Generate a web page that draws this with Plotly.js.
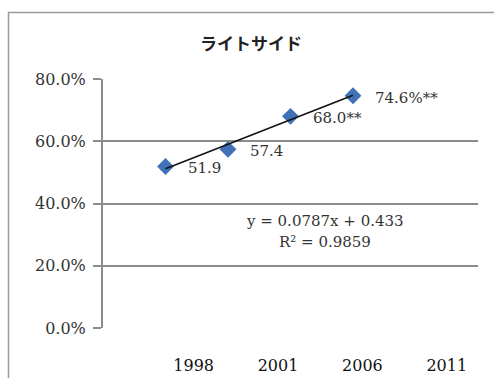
<!DOCTYPE html>
<html>
<head>
<meta charset="utf-8">
<script src="https://cdn.plot.ly/plotly-3.0.1.min.js"></script>
<style>html,body{margin:0;padding:0;background:#fff;}#chart{width:494px;height:378px;}</style>
</head>
<body>
<div id="chart"></div>
<script>
// Data
const chartTitle = 'ライトサイド';
const xPos = [1, 2, 3, 4];
const values = [0.519, 0.574, 0.680, 0.746];
const pointLabels = ['51.9', '57.4', '68.0**', '74.6%**'];
const tickPositions = [1.45, 2.8, 4.15, 5.5];
const tickLabels = ['1998', '2001', '2006', '2011'];
const eqText = 'y = 0.0787x + 0.433';
const r2Text = 'R² = 0.9859';

// linear regression
const n = xPos.length;
const mx = xPos.reduce((a, b) => a + b, 0) / n;
const my = values.reduce((a, b) => a + b, 0) / n;
let sxy = 0, sxx = 0;
for (let i = 0; i < n; i++) { sxy += (xPos[i] - mx) * (values[i] - my); sxx += (xPos[i] - mx) ** 2; }
const slope = sxy / sxx, intercept = my - slope * mx;
const trendX = [xPos[0], xPos[n - 1]];
const trendY = trendX.map(x => slope * x + intercept);

const serif = 'DejaVu Serif, Liberation Serif, serif';
const gridCol = '#8c8c8c';

const traces = [
  {x: xPos, y: values, mode: 'markers', type: 'scatter',
   marker: {symbol: 'diamond', size: 13, color: '#3f72b6', line: {width: 0}}, hoverinfo: 'skip'},
  {x: trendX, y: trendY, mode: 'lines', type: 'scatter',
   line: {color: '#111', width: 1.5}, hoverinfo: 'skip'}
];

const annotations = pointLabels.map((t, i) => ({
  x: xPos[i], y: values[i], xref: 'x', yref: 'y', text: t, showarrow: false,
  xanchor: 'left', yanchor: 'middle', xshift: 20, yshift: -2,
  font: {family: serif, size: 15, color: '#333'}
}));
annotations.push({x: 3.55, y: 0.40, xref: 'x', yref: 'y', text: eqText, showarrow: false,
  xanchor: 'center', yanchor: 'middle', yshift: -17, font: {family: serif, size: 15, color: '#333'}});
annotations.push({x: 3.55, y: 0.40, xref: 'x', yref: 'y', text: r2Text, showarrow: false,
  xanchor: 'center', yanchor: 'middle', yshift: -38, font: {family: serif, size: 15, color: '#333'}});

const layout = {
  width: 494, height: 378,
  margin: {l: 103, r: 16, t: 79, b: 50},
  paper_bgcolor: '#fff', plot_bgcolor: '#fff',
  showlegend: false,
  title: {text: '<b>' + chartTitle + '</b>', x: 251 / 494, xref: 'container', xanchor: 'center',
          y: 1 - 44 / 378, yref: 'container', yanchor: 'middle',
          font: {family: 'Noto Sans CJK JP, sans-serif', size: 17, color: '#222'}},
  xaxis: {range: [0, 6], showgrid: false, zeroline: false, showline: false, ticks: '',
          tickvals: tickPositions, ticktext: tickLabels, ticklabelstandoff: 26,
          tickfont: {family: serif, size: 16, color: '#111'}},
  yaxis: {range: [0, 0.8], dtick: 0.2, tickformat: '.1%', showgrid: true, gridcolor: gridCol, gridwidth: 2,
          zeroline: false, showline: true, linecolor: gridCol, linewidth: 2,
          ticks: 'outside', ticklen: 8, tickcolor: gridCol, tickwidth: 2, ticklabelstandoff: 4,
          tickfont: {family: serif, size: 16, color: '#333'}},
  annotations: annotations,
  shapes: [{type: 'rect', xref: 'paper', yref: 'paper',
            x0: (8.5 - 103) / 375, x1: (520 - 103) / 375, y0: (328 - 400) / 249, y1: (328 - 12.5) / 249,
            line: {color: '#999', width: 1.5}, fillcolor: 'rgba(0,0,0,0)', layer: 'below'}]
};

Plotly.newPlot('chart', traces, layout, {staticPlot: true, displayModeBar: false});
</script>
</body>
</html>
